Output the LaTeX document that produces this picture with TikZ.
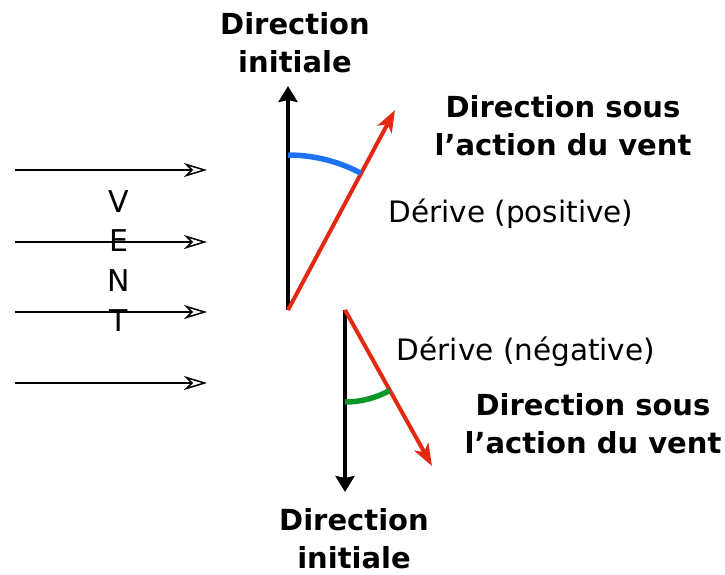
\documentclass[tikz,border=0pt]{standalone}
\usepackage{fontspec}
\setmainfont{DejaVu Sans}
\usepackage{xcolor}
\usetikzlibrary{arrows.meta,calc}

\definecolor{ventred}{RGB}{228,40,18}
\definecolor{arcblue}{RGB}{30,115,245}
\definecolor{arcgreen}{RGB}{10,150,40}

\begin{document}
\begin{tikzpicture}[
  x=1pt, y=-1pt,
  lab/.style  ={font=\fontsize{29.5}{38}\selectfont, inner sep=0pt, anchor=base},
  blab/.style ={lab, font=\fontsize{29}{38}\selectfont\bfseries, align=center},
  vent/.style ={lab, font=\fontsize{30}{38}\selectfont},
  wind/.style ={line width=1.5pt, -{Stealth[open, length=23pt, width=14pt, inset=7pt]}},
  axe/.style  ={line width=3.5pt, -{Stealth[length=16pt, width=19pt, inset=2pt]}},
  heading/.style={line width=4pt, draw=ventred, -{Stealth[length=22pt, width=16pt, inset=6pt]}},
  drift/.style={line width=5.5pt},
]
\useasboundingbox (0,0) rectangle (725,574);
% ---------------- WIND (left) ----------------
\foreach \n/\y in {1/170,2/242,3/312,4/383} {
  \coordinate (ws\n) at (15,\y);
  \coordinate (we\n) at (207,\y);
  \draw[wind] (ws\n) -- (we\n);
}
\foreach \l/\y in {V/212,E/251,N/291,T/331}
  \node[vent] (vent\l) at (119,\y) {\l};

% ---------------- positive drift (top) ----------------
\coordinate (o1)  at (288,310);
\coordinate (up1) at (288,86);
\coordinate (tip1) at (395,110);
\draw[axe] (o1) -- (up1);
\draw[heading] (o1) -- (tip1);
\draw[drift, draw=arcblue] ($(o1)+(0,-155)$) arc[start angle=90, end angle=62, radius=155pt];

\node[blab] (init1) at (295,72)  {Direction\\initiale};
\node[blab] (sous1) at (563,155) {Direction sous\\l'action du vent};
\node[lab]  (pos)   at (511,222) {Dérive (positive)};

% ---------------- negative drift (bottom) ----------------
\coordinate (o2)  at (345,310);
\coordinate (dn2) at (345,492);
\coordinate (tip2) at (432,466);
\draw[axe] (o2) -- (dn2);
\draw[heading] (o2) -- (tip2);
\draw[drift, draw=arcgreen] ($(o2)+(0,92)$) arc[start angle=-90, end angle=-61, radius=92pt];

\node[lab]  (neg)   at (526,360) {Dérive (négative)};
\node[blab] (sous2) at (593,453) {Direction sous\\l'action du vent};
\node[blab] (init2) at (354,568) {Direction\\initiale};
\end{tikzpicture}
\end{document}
